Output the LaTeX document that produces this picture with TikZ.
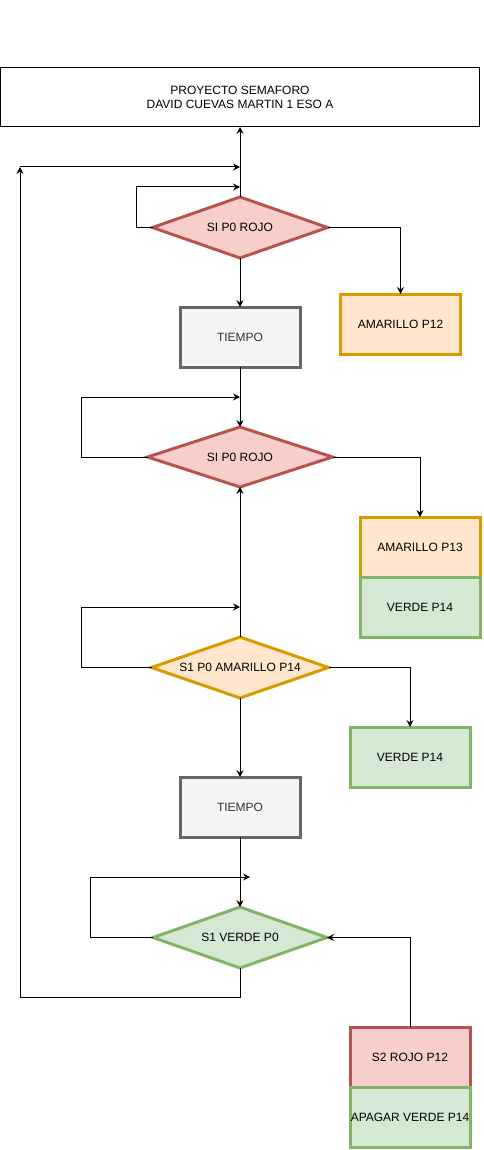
\documentclass[tikz,border=0pt]{standalone}
\usepackage{fontspec}
\setmainfont{Liberation Sans}
\usetikzlibrary{shapes.geometric,arrows.meta}
\definecolor{rojoS}{HTML}{B85450}
\definecolor{rojoF}{HTML}{F8CECC}
\definecolor{naranjaS}{HTML}{D79B00}
\definecolor{naranjaF}{HTML}{FFE6CC}
\definecolor{verdeS}{HTML}{82B366}
\definecolor{verdeF}{HTML}{D5E8D4}
\definecolor{grisS}{HTML}{666666}
\definecolor{grisF}{HTML}{F5F5F5}
\definecolor{grisT}{HTML}{333333}
\tikzset{
  txt/.style={font=\fontsize{12}{14}\selectfont},
  caja/.style={rectangle, draw, line width=3pt, minimum width=120pt, minimum height=60pt, inner sep=0pt, outer sep=0pt, txt},
  rombo/.style={diamond, draw, line width=3pt, inner sep=0pt, outer sep=0pt, aspect=2.9, minimum width=175pt, minimum height=61pt, txt},
  rojo/.style={draw=rojoS, fill=rojoF},
  naranja/.style={draw=naranjaS, fill=naranjaF},
  verde/.style={draw=verdeS, fill=verdeF},
  gris/.style={draw=grisS, fill=grisF, text=grisT},
  conn/.style={draw=black, line width=1pt, -{Stealth[length=7pt,width=7pt,inset=2.5pt]}},
  linea/.style={draw=black, line width=1pt}
}
\begin{document}
\begin{tikzpicture}[x=1pt,y=-1pt]
\useasboundingbox (0,0) rectangle (483,1150);
\node[rectangle, draw, line width=1pt, minimum width=479pt, minimum height=59pt, inner sep=0pt, outer sep=0pt, align=center, txt] (title) at (240,97.5) {PROYECTO SEMAFORO\\DAVID CUEVAS MARTIN 1 ESO A};
\node[rombo, rojo] (d1) at (240,227.5) {SI P0 ROJO};
\node[caja, gris] (t1) at (240,337) {TIEMPO};
\node[caja, naranja] (a12) at (400.5,324) {AMARILLO P12};
\node[rombo, rojo, minimum width=185pt, minimum height=60pt] (d2) at (240,457) {SI P0 ROJO};
\node[caja, naranja] (a13) at (420,547) {AMARILLO P13};
\node[caja, verde] (v14a) at (420,607) {VERDE P14};
\node[rombo, naranja, minimum width=177pt] (d3) at (240,667.5) {S1 P0 AMARILLO P14};
\node[caja, verde] (v14b) at (410,757) {VERDE P14};
\node[caja, gris] (t2) at (240,807) {TIEMPO};
\node[rombo, verde, minimum width=174pt] (d4) at (240,937.5) {S1 VERDE P0};
\node[caja, rojo] (s2) at (410,1057) {S2 ROJO P12};
\node[caja, verde] (ap) at (410,1117) {APAGAR VERDE P14};

\coordinate (c0) at (240,167);
\coordinate (c1) at (240,187);
\coordinate (l1) at (136,187);
\coordinate (c2) at (240,397);
\coordinate (l2) at (81,397);
\coordinate (c3) at (240,607);
\coordinate (l3) at (81,607);
\coordinate (c4) at (250,877);
\coordinate (l4) at (90,877);
\coordinate (b1) at (20,997);
\coordinate (b2) at (20,167);

\draw[conn] (d1.north) -- (title.south);
\draw[conn] (d1.south) -- (t1.north);
\draw[conn] (d1.east) -| (a12.north);
\draw[conn] (d1.west) -| (l1) -- (c1);
\draw[conn] (t1.south) -- (d2.north);
\draw[conn] (d2.west) -| (l2) -- (c2);
\draw[conn] (d2.east) -| (a13.north);
\draw[conn] (d3.north) -- (d2.south);
\draw[conn] (d3.west) -| (l3) -- (c3);
\draw[conn] (d3.east) -| (v14b.north);
\draw[conn] (d3.south) -- (t2.north);
\draw[conn] (t2.south) -- (d4.north);
\draw[conn] (d4.west) -| (l4) -- (c4);
\draw[conn] (d4.south) |- (b1) -- (b2);
\draw[conn] (b2) -- (c0);
\draw[conn] (s2.north) |- (d4.east);
\end{tikzpicture}
\end{document}
